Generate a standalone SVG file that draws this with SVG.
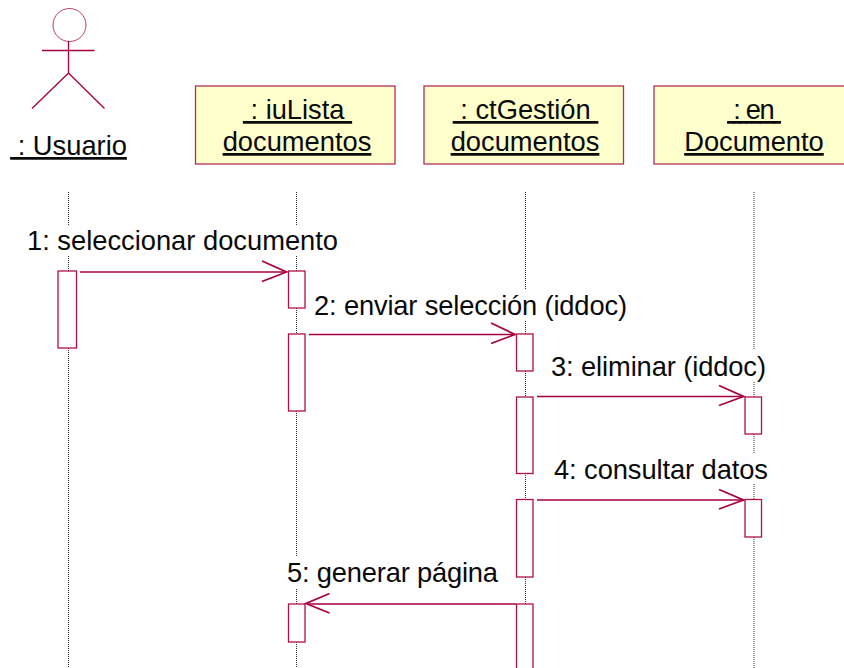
<svg xmlns="http://www.w3.org/2000/svg" width="844" height="668" viewBox="0 0 844 668">
<style>
text{font-family:"Liberation Sans",Arial,sans-serif;font-size:27.3px;fill:#0a0a0a}
.u{text-decoration:underline;text-anchor:middle}
.box{fill:#ffffcc;stroke:#b0305c;stroke-width:1.3}
.life{stroke:#333;stroke-width:1;stroke-dasharray:1 1;fill:none}
.act{fill:#fff;stroke:#b01048;stroke-width:1.3}
.a{stroke:#a80040;stroke-width:1.3;fill:none}
.h{stroke:#a80040;stroke-width:1.8;fill:none}
</style>
<g id="lifelines" class="connectors">
<path class="life" d="M68.500 192V225M68.500 256V271M68.500 348V668"/>
<path class="life" d="M296.500 192V225M296.500 256V271M296.500 308V334M296.500 411V557M296.500 589V604M296.500 642V668"/>
<path class="life" d="M525.500 192V289M525.500 321V334M525.500 371V397M525.500 473V499M525.500 577V604"/>
<path class="life" d="M754 192V350M754 382V397M754 434V453M754 484V499M754 537V668"/>
</g>
<g id="actor-usuario">
<circle cx="69.500" cy="25" r="16.500" fill="none" stroke="#b8406a" stroke-width="1"/>
<path class="a" d="M42 50.500H94.500M68.500 41V73M68.500 73L32 108.500M68.500 73L104.500 108.500"/>
<text class="u" x="68.500" y="155" xml:space="preserve"> : Usuario</text>
</g>
<g id="obj-iulista">
<rect class="box" x="195.500" y="86" width="199.500" height="78"/>
<text class="u" x="297.500" y="119" xml:space="preserve"> : iuLista </text>
<text class="u" x="297" y="151">documentos</text>
</g>
<g id="obj-ctgestion">
<rect class="box" x="424" y="86" width="199.500" height="78"/>
<text class="u" x="525.500" y="119" xml:space="preserve"> : ctGestión </text>
<text class="u" x="525" y="151">documentos</text>
</g>
<g id="obj-documento">
<rect class="box" x="654" y="86" width="199.500" height="78"/>
<text class="u" x="754" y="119" textLength="54" xml:space="preserve"> : en </text>
<text class="u" x="754" y="151">Documento</text>
</g>
<g id="activations">
<rect class="act" x="58" y="271" width="18.500" height="77"/>
<rect class="act" x="288.500" y="271" width="16.500" height="37"/>
<rect class="act" x="288.500" y="334" width="16.500" height="77"/>
<rect class="act" x="288.500" y="604" width="16.500" height="38"/>
<rect class="act" x="516.500" y="334" width="16.500" height="37"/>
<rect class="act" x="516.500" y="397" width="16.500" height="76.500"/>
<rect class="act" x="516.500" y="499.500" width="16.500" height="77.500"/>
<rect class="act" x="516.500" y="604" width="16.500" height="70"/>
<rect class="act" x="745" y="397" width="16.500" height="37"/>
<rect class="act" x="745" y="499.500" width="16.500" height="37.500"/>
</g>
<g id="connectors">
<path class="a" d="M80 272H286"/><path class="h" d="M262 261L286.500 272L262 281.500"/>
<path class="a" d="M309 334.500H515"/><path class="h" d="M491 323L515 334.500L491 343.500"/>
<path class="a" d="M537 396.500H744"/><path class="h" d="M719 385.500L743.500 396.500L719 405.500"/>
<path class="a" d="M537 500H744"/><path class="h" d="M719 489.500L743.500 500L719 509"/>
<path class="a" d="M516 604H307"/><path class="h" d="M329.500 593.500L306 603.500L329.500 613"/>
</g>
<g id="labels">
<text x="27" y="250" textLength="311">1: seleccionar documento</text>
<text x="314" y="315" textLength="313">2: enviar selección (iddoc)</text>
<text x="551" y="376" textLength="215">3: eliminar (iddoc)</text>
<text x="554" y="479" textLength="214">4: consultar datos</text>
<text x="287" y="582" textLength="211">5: generar página</text>
</g>
</svg>
